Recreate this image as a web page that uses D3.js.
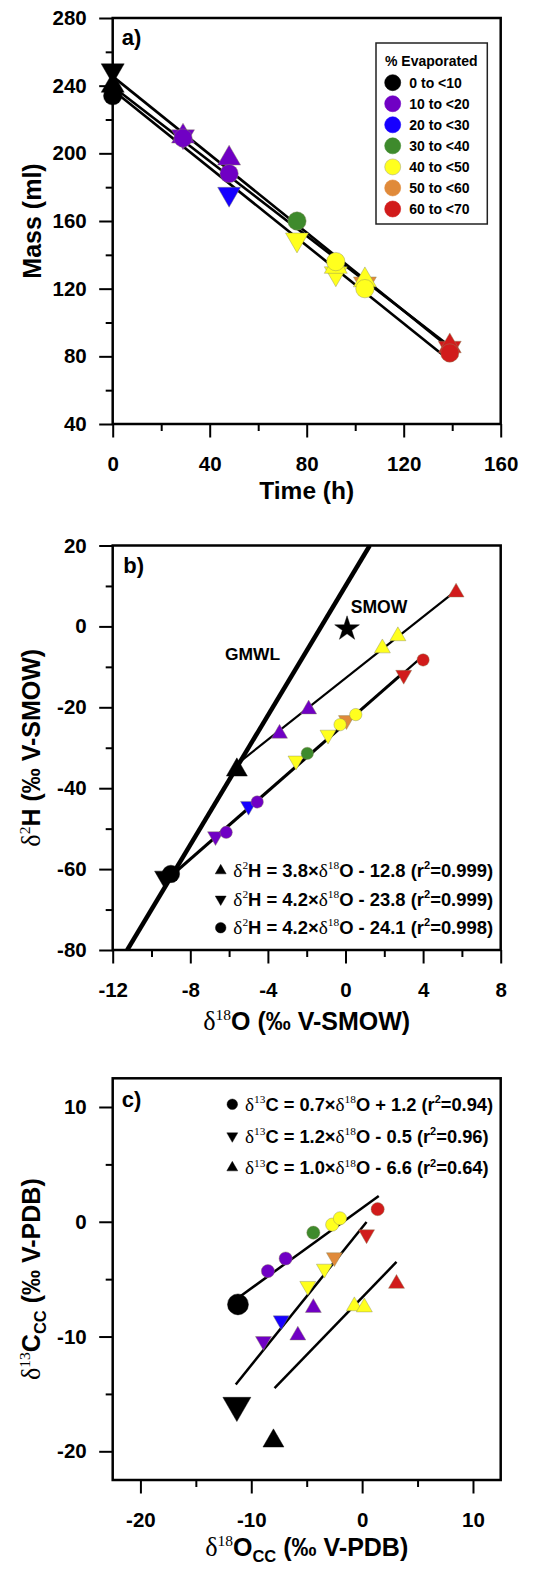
<!DOCTYPE html>
<html><head><meta charset="utf-8">
<script src="https://cdn.jsdelivr.net/npm/d3@7"></script>
<style>
body{margin:0;background:#fff}
svg{display:block}
text{font-family:Arial,"Liberation Sans",Helvetica,sans-serif;font-weight:bold;fill:#000}
</style>
</head><body>
<svg id="chart" width="548" height="1575"></svg>
<script>
// ---------------- shared ----------------
const evapClasses = ["0 to <10","10 to <20","20 to <30","30 to <40","40 to <50","50 to <60","60 to <70"];
const evapColors  = ["#000000","#7000c4","#1600ff","#3e8a2c","#ffff1e","#e08a3a","#d11b1b"];

// ---------------- panel a ----------------
const aTicksX = [0,40,80,120,160];
const aMinorX = [20,60,100,140];
const aTicksY = [40,80,120,160,200,240,280];
const aMinorY = [60,100,140,180,220,260];
const aUpTime   = [0,29,48,92,104,139];
const aUpMass   = [240,210,197,133,125,86];
const aUpClass  = [0,1,1,4,4,6];
const aDownTime = [0,29,48,76,92,104,139];
const aDownMass = [249,210,176,149,129,123,85];
const aDownClass= [0,1,2,4,4,5,6];
const aCircTime = [0,29,48,76,92,104,139];
const aCircMass = [234,209,188,160,136,120,82];
const aCircClass= [0,1,1,3,4,4,6];
// fitted lines: [start time, end time], [start mass, end mass]
const aFitTime = [0,139];
const aFitUpMass   = [239.5,86];
const aFitDownMass = [245.5,85];
const aFitCircMass = [237.5,77.5];

// ---------------- panel b ----------------
const bTicksX = [-12,-8,-4,0,4,8];
const bMinorX = [-10,-6,-2,2,6];
const bTicksY = [-80,-60,-40,-20,0,20];
const bMinorY = [-70,-50,-30,-10,10];
const bUpX    = [-5.6,-3.4,-1.9,1.9,2.7,5.7];
const bUpY    = [-35.5,-26.5,-20.5,-5.4,-2.4,8.4];
const bUpClass= [0,1,1,4,4,6];
const bDownX  = [-9.3,-6.7,-5.0,-2.55,-0.9,0.05,3.0];
const bDownY  = [-62,-51.9,-44.4,-33.2,-26.8,-23.2,-12.0];
const bDownClass=[0,1,2,4,4,5,6];
const bCircX  = [-9.0,-6.15,-4.55,-1.97,-0.28,0.53,4.0];
const bCircY  = [-61.2,-50.9,-43.4,-31.4,-24.3,-21.8,-8.3];
const bCircClass=[0,1,1,3,4,4,6];
const bFitSlope = [3.8,4.2,4.2];
const bFitInt   = [-12.8,-23.8,-24.1];
const bFitFrom  = [-5.6,-9.3,-9.0];
const bFitTo    = [5.8,3.0,4.0];
const bFitR2    = ["0.999","0.999","0.998"];
const gmwlSlope = 8, gmwlInt = 10;
const smowPoint = [0.08,-0.6];

// ---------------- panel c ----------------
const cTicksX = [-20,-10,0,10];
const cMinorX = [-15,-5,5];
const cTicksY = [-20,-10,0,10];
const cMinorY = [-15,-5,5];
const cCircX  = [-11.2,-8.5,-6.9,-4.4,-2.7,-2.0,1.4];
const cCircY  = [-7.2,-4.3,-3.2,-0.95,-0.25,0.3,1.1];
const cCircClass=[0,1,1,3,4,4,6];
const cDownX  = [-11.3,-8.9,-7.3,-4.9,-3.4,-2.5,0.4];
const cDownY  = [-16.0,-10.4,-8.6,-5.6,-4.1,-3.1,-1.1];
const cDownClass=[0,1,2,4,4,5,6];
const cUpX    = [-8.0,-5.8,-4.4,-0.7,0.2,3.1];
const cUpY    = [-19.1,-9.9,-7.5,-7.35,-7.45,-5.4];
const cUpClass= [0,1,1,4,4,6];
const cFitSlope = [0.7,1.2,1.0];
const cFitInt   = [1.2,-0.5,-6.6];
const cFitFrom  = [-11.2,-11.4,-7.9];
const cFitTo    = [1.5,0.4,3.1];
const cFitR2    = ["0.94","0.96","0.64"];

// ---------------- helpers ----------------
const svg = d3.select("#chart");
const SERIF = '"Liberation Serif","Times New Roman",serif';
const fmt = d => String(d);

function rich(t, parts, fs){
  let off = 0;
  parts.forEach(([s,k]) => {
    const sp = t.append("tspan").text(s);
    let target = 0, size = fs, fam = null, w = "bold";
    if (k === "g"){ fam = SERIF; w = "normal"; size = fs*1.05; }
    if (k === "sup"){ fam = SERIF; w = "normal"; size = fs*0.62; target = -fs*0.42; }
    if (k === "supb"){ size = fs*0.6; target = -fs*0.42; }
    if (k === "sub"){ size = fs*0.66; target = fs*0.25; }
    sp.attr("font-size", size).attr("font-weight", w);
    if (fam) sp.attr("font-family", fam);
    if (target - off !== 0) sp.attr("dy", target - off);
    off = target;
  });
}

function axes(g, x, y, xt, xm, yt, ym){
  const [y0] = y.range(), [x0] = x.range();
  const style = s => {
    s.select(".domain").remove();
    s.selectAll("line").attr("stroke","#000").attr("stroke-width",2);
    s.selectAll("text").attr("font-size",20.5).attr("fill","#000");
  };
  g.append("g").attr("transform",`translate(0,${y0})`)
    .call(d3.axisBottom(x).tickValues(xm).tickSize(7).tickFormat("")).call(style);
  g.append("g").attr("transform",`translate(0,${y0})`)
    .call(d3.axisBottom(x).tickValues(xt).tickSize(13.5).tickPadding(19).tickFormat(fmt)).call(style);
  g.append("g").attr("transform",`translate(${x0},0)`)
    .call(d3.axisLeft(y).tickValues(ym).tickSize(7).tickFormat("")).call(style);
  g.append("g").attr("transform",`translate(${x0},0)`)
    .call(d3.axisLeft(y).tickValues(yt).tickSize(13.5).tickPadding(12.5).tickFormat(fmt)).call(style);
}

function frame(g, x, y){
  const [xa,xb] = x.range(), [ya,yb] = y.range();
  g.append("rect").attr("x",xa).attr("y",yb).attr("width",xb-xa).attr("height",ya-yb)
    .attr("fill","none").attr("stroke","#000").attr("stroke-width",2.5);
}

function sym(g, kind, size, px, py, color){
  const type = kind === "circle" ? d3.symbolCircle : kind === "star" ? d3.symbolStar : d3.symbolTriangle;
  const rot = kind === "down" ? 180 : 0;
  g.append("path").attr("d", d3.symbol().type(type).size(size)())
    .attr("transform",`translate(${px},${py}) rotate(${rot})`)
    .attr("fill", color)
    .attr("stroke", color === "#000000" ? "#000" : "#8a8a60")
    .attr("stroke-width", 0.6).attr("stroke-opacity",0.7);
}

function clipFor(id, x, y){
  const [xa,xb] = x.range(), [ya,yb] = y.range();
  svg.append("clipPath").attr("id",id).append("rect")
    .attr("x",xa).attr("y",yb).attr("width",xb-xa).attr("height",ya-yb);
}

const L = 112.7, R = 500.7;

// ================= PANEL A =================
{
  const x = d3.scaleLinear().domain([0,160]).range([L,R]);
  const y = d3.scaleLinear().domain([40,280]).range([424,18]);
  const g = svg.append("g");
  axes(g, x, y, aTicksX, aMinorX, aTicksY, aMinorY);

  const line = d3.line().x(d => x(d[0])).y(d => y(d[1]));
  [aFitUpMass, aFitDownMass, aFitCircMass].forEach(m => {
    g.append("path").attr("d", line(aFitTime.map((t,i)=>[t,m[i]])))
      .attr("fill","none").attr("stroke","#000").attr("stroke-width",2.6);
  });
  aDownTime.forEach((t,i)=> sym(g,"down",229,x(t),y(aDownMass[i]),evapColors[aDownClass[i]]));
  aUpTime.forEach((t,i)=> sym(g,"up",229,x(t),y(aUpMass[i]),evapColors[aUpClass[i]]));
  aCircTime.forEach((t,i)=> sym(g,"circle",265,x(t),y(aCircMass[i]),evapColors[aCircClass[i]]));

  frame(g, x, y);

  // legend
  const lg = g.append("g");
  lg.append("rect").attr("x",376).attr("y",43).attr("width",111.3).attr("height",181)
    .attr("fill","#fff").attr("stroke","#222").attr("stroke-width",1.5);
  lg.append("text").attr("x",385).attr("y",65.5).attr("font-size",14).text("% Evaporated");
  evapClasses.forEach((c,i)=>{
    const cy = 82.7 + i*21.05;
    lg.append("circle").attr("cx",392.7).attr("cy",cy).attr("r",8)
      .attr("fill",evapColors[i]).attr("stroke", i===4 ? "#b0b080" : evapColors[i]).attr("stroke-width",0.6);
    lg.append("text").attr("x",409.3).attr("y",cy+5).attr("font-size",14).text(c);
  });

  g.append("text").attr("x",121.7).attr("y",45).attr("font-size",22).text("a)");
  g.append("text").attr("x",(L+R)/2).attr("y",499).attr("text-anchor","middle").attr("font-size",24.5).text("Time (h)");
  g.append("text").attr("transform",`translate(41,${(18+424)/2}) rotate(-90)`)
    .attr("text-anchor","middle").attr("font-size",25).text("Mass (ml)");
}

// ================= PANEL B =================
{
  const x = d3.scaleLinear().domain([-12,8]).range([L,R]);
  const y = d3.scaleLinear().domain([-80,20]).range([950,545.5]);
  const g = svg.append("g");
  clipFor("clipB", x, y);
  axes(g, x, y, bTicksX, bMinorX, bTicksY, bMinorY);

  const line = d3.line().x(d => x(d[0])).y(d => y(d[1]));
  // GMWL
  const gx0 = (-80 - gmwlInt)/gmwlSlope, gx1 = (20 - gmwlInt)/gmwlSlope;
  g.append("path").attr("clip-path","url(#clipB)")
    .attr("d", line([[gx0, gmwlSlope*gx0+gmwlInt],[gx1, gmwlSlope*gx1+gmwlInt]]))
    .attr("fill","none").attr("stroke","#000").attr("stroke-width",4.5);
  bFitSlope.forEach((s,i)=>{
    g.append("path").attr("d", line([[bFitFrom[i], s*bFitFrom[i]+bFitInt[i]],[bFitTo[i], s*bFitTo[i]+bFitInt[i]]]))
      .attr("fill","none").attr("stroke","#000").attr("stroke-width",2.2);
  });

  bDownX.forEach((v,i)=> sym(g,"down", i===0?191:111, x(v), y(bDownY[i]), evapColors[bDownClass[i]]));
  bUpX.forEach((v,i)=> sym(g,"up", i===0?191:111, x(v), y(bUpY[i]), evapColors[bUpClass[i]]));
  bCircX.forEach((v,i)=> sym(g,"circle", i===0?240:120, x(v), y(bCircY[i]), evapColors[bCircClass[i]]));
  sym(g,"star",190,x(smowPoint[0]),y(smowPoint[1]),"#000000");

  frame(g, x, y);

  g.append("text").attr("x",225).attr("y",660).attr("font-size",17.4).text("GMWL");
  g.append("text").attr("x",350.7).attr("y",613).attr("font-size",17.6).text("SMOW");
  g.append("text").attr("x",123.3).attr("y",573).attr("font-size",22).text("b)");

  // legend
  const kinds = ["up","down","circle"];
  const base = [877, 905.5, 934];
  bFitSlope.forEach((s,i)=>{
    sym(g, kinds[i], kinds[i]==="circle"?88:52, 220.7, base[i]-6.3, "#000000");
    const sign = bFitInt[i] < 0 ? "- " : "+ ";
    const t = g.append("text").attr("x",233.3).attr("y",base[i]);
    rich(t, [["δ","g"],["2","sup"],[`H = ${s.toFixed(1)}×`,"n"],["δ","g"],["18","sup"],
             [`O ${sign}${Math.abs(bFitInt[i]).toFixed(1)} (r`,"n"],["2","supb"],[`=${bFitR2[i]})`,"n"]], 18.4);
  });

  const xt = g.append("text").attr("x",(L+R)/2).attr("y",1030).attr("text-anchor","middle");
  rich(xt, [["δ","g"],["18","sup"],["O (‰ V-SMOW)","n"]], 25);
  const yt = g.append("text").attr("transform",`translate(40,${(545.5+950)/2}) rotate(-90)`).attr("text-anchor","middle");
  rich(yt, [["δ","g"],["2","sup"],["H (‰ V-SMOW)","n"]], 25);
}

// ================= PANEL C =================
{
  const x = d3.scaleLinear().domain([-22.5,12.5]).range([L,R]);
  const y = d3.scaleLinear().domain([-22.5,12.5]).range([1480,1078.3]);
  const g = svg.append("g");
  axes(g, x, y, cTicksX, cMinorX, cTicksY, cMinorY);

  const line = d3.line().x(d => x(d[0])).y(d => y(d[1]));
  cFitSlope.forEach((s,i)=>{
    g.append("path").attr("d", line([[cFitFrom[i], s*cFitFrom[i]+cFitInt[i]],[cFitTo[i], s*cFitTo[i]+cFitInt[i]]]))
      .attr("fill","none").attr("stroke","#000").attr("stroke-width",2.5);
  });
  cCircX.forEach((v,i)=> sym(g,"circle", i===0?346:137, x(v), y(cCircY[i]), evapColors[cCircClass[i]]));
  cDownX.forEach((v,i)=> sym(g,"down", i===0?339:111, x(v), y(cDownY[i]), evapColors[cDownClass[i]]));
  cUpX.forEach((v,i)=> sym(g,"up", i===0?191:111, x(v), y(cUpY[i]), evapColors[cUpClass[i]]));

  frame(g, x, y);
  g.append("text").attr("x",121.7).attr("y",1106.7).attr("font-size",22).text("c)");

  const kinds = ["circle","down","up"];
  const centers = [1104.3, 1136, 1167.7];
  cFitSlope.forEach((s,i)=>{
    sym(g, kinds[i], kinds[i]==="circle"?88:52, 232.3, centers[i], "#000000");
    const sign = cFitInt[i] < 0 ? "- " : "+ ";
    const t = g.append("text").attr("x",245).attr("y",centers[i]+6.7);
    rich(t, [["δ","g"],["13","sup"],[`C = ${s.toFixed(1)}×`,"n"],["δ","g"],["18","sup"],
             [`O ${sign}${Math.abs(cFitInt[i]).toFixed(1)} (r`,"n"],["2","supb"],[`=${cFitR2[i]})`,"n"]], 18.3);
  });

  const xt = g.append("text").attr("x",(L+R)/2).attr("y",1556).attr("text-anchor","middle");
  rich(xt, [["δ","g"],["18","sup"],["O","n"],["CC","sub"],[" (‰ V-PDB)","n"]], 25);
  const yt = g.append("text").attr("transform",`translate(40,${(1078.3+1480)/2}) rotate(-90)`).attr("text-anchor","middle");
  rich(yt, [["δ","g"],["13","sup"],["C","n"],["CC","sub"],[" (‰ V-PDB)","n"]], 25);
}
</script>
</body></html>
